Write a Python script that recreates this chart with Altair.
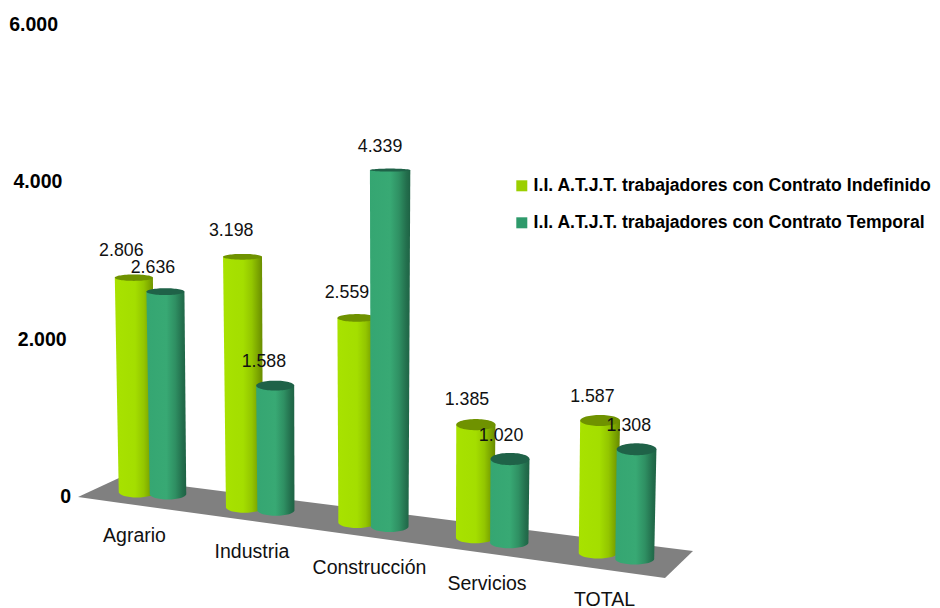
import math
import altair as alt
import pandas as pd

categories = ["Agrario", "Industria", "Construcción", "Servicios", "TOTAL"]
series_names = ["I.I. A.T.J.T. trabajadores con Contrato Indefinido",
                "I.I. A.T.J.T. trabajadores con Contrato Temporal"]
indefinido = [2806, 3198, 2559, 1385, 1587]
temporal = [2636, 1588, 4339, 1020, 1308]
axis_ticks = [0, 2000, 4000, 6000]

FONT = "Liberation Sans"
W, H = 924, 600
PER_UNIT = 472 / 6000
def to_units(py):
    return (497 - py) / PER_UNIT
Y_DOM = [to_units(8 + H), to_units(8)]
xs = alt.Scale(domain=[8, 8 + W], range=[0, W], nice=False, zero=False)
ys = alt.Scale(domain=Y_DOM, range=[H, 0], nice=False, zero=False)
X = lambda f, **k: alt.X(f, type="quantitative", scale=xs, axis=None, **k)
Y = lambda f, **k: alt.Y(f, type="quantitative", scale=ys, axis=None, **k)

def grad(stops):
    return alt.LinearGradient(gradient="linear", x1=0, x2=1, y1=0, y2=0,
        stops=[alt.GradientStop(offset=o, color=c) for o, c in stops])

FILLS = [
    grad([(0, "#A8E200"), (0.5, "#A4DE00"), (0.72, "#93C600"), (0.9, "#779F00"), (1, "#668800")]),
    grad([(0, "#35A672"), (0.5, "#38A974"), (0.72, "#2F9063"), (0.9, "#236F4D"), (1, "#1E6244")]),
]
TOPS = ["#6F9200", "#1F6248"]
LEGEND = ["#9BCF00", "#2E9A6B"]

def geometry(i, s, v):
    bx = 137 + 107.5 * i + 2.6 * i * (i - 1) + s * (31 + 0.1 * i + 0.32 * i * i)
    by = 492 + 15.25 * i + s * (2 + i)
    h = v * (0.0763 + 0.0018 * i + 0.0004 * s) + 8 * (v / 4339) ** 8
    tx = bx + (bx - 370) * 6.3e-5 * h
    ty = by - h
    wb = 36.5 + 0.6 * i
    wt = wb + 1.5 * h / 200
    return bx, by, tx, ty, wb, wt

layers = []
# floor
floor = pd.DataFrame({"x": [78, 119, 665, 693],
                      "a": [to_units(497), to_units(478), to_units(547.4), to_units(551)],
                      "b": [to_units(497), to_units(502.7), to_units(578), to_units(551)]})
layers.append(alt.Chart(floor).mark_area(color="#808080", interpolate="linear").encode(
    x=X("x"), y=Y("a"), y2="b"))

label_rows = []
for i, cat in enumerate(categories):
    for s, vals in enumerate([indefinido, temporal]):
        v = vals[i]
        bx, by, tx, ty, wb, wt = geometry(i, s, v)
        hb = 5.5
        ht = 1.5 + max(ty - 170, 0) * 0.016
        rows = [dict(py=ty, l=tx - wt / 2, r=tx + wt / 2)]
        rows.append(dict(py=by, l=bx - wb / 2, r=bx + wb / 2))
        for k in range(1, 17):
            a = k / 16 * math.pi / 2
            rows.append(dict(py=by + hb * math.sin(a),
                             l=bx - wb / 2 * math.cos(a), r=bx + wb / 2 * math.cos(a)))
        df = pd.DataFrame(rows)
        df["u"] = df.py.map(to_units)
        layers.append(alt.Chart(df).mark_area(orient="horizontal", color=FILLS[s], interpolate="linear").encode(
            x=X("l"), x2="r", y=Y("u")))
        rows = []
        for k in range(-16, 17):
            a = k / 16 * math.pi / 2
            rows.append(dict(py=ty + ht * math.sin(a),
                             l=tx - wt / 2 * math.cos(a), r=tx + wt / 2 * math.cos(a)))
        df = pd.DataFrame(rows)
        df["u"] = df.py.map(to_units)
        layers.append(alt.Chart(df).mark_area(orient="horizontal", color=TOPS[s], interpolate="linear").encode(
            x=X("l"), x2="r", y=Y("u")))
        off = (-26.5 + 0.75 * i) if s == 0 else -23.5
        label_rows.append(dict(x=tx - 12.5 + 1.2 * i, u=to_units(ty + off),
                               t=f"{v:,}".replace(",", ".")))

layers.append(alt.Chart(pd.DataFrame(label_rows)).mark_text(
    font=FONT, fontSize=17.8, color="#111111", align="center", baseline="middle").encode(
    x=X("x"), y=Y("u"), text="t:N"))

# category labels
cat_df = pd.DataFrame({"c": categories,
                       "x": [134.5 + 117.5 * i for i in range(5)],
                       "u": [to_units(535.5 + 16 * i) for i in range(5)]})
layers.append(alt.Chart(cat_df).mark_text(
    font=FONT, fontSize=19.5, color="#111111", align="center", baseline="middle").encode(
    x=X("x"), y=Y("u"), text="c:N"))

# value axis labels
tick_df = pd.DataFrame({"v": axis_ticks})
tick_df["x"] = [71 - 13 * k / 6000 for k in axis_ticks]
tick_df["t"] = [f"{k:,}".replace(",", ".") for k in axis_ticks]
layers.append(alt.Chart(tick_df).mark_text(
    font=FONT, fontSize=19.5, fontWeight="bold", color="#000000", align="right", baseline="middle").encode(
    x=X("x"), y=Y("v"), text="t:N"))

# legend
leg_df = pd.DataFrame({"s": series_names, "x": [600, 600], "u": [0, 0]})
layers.append(alt.Chart(leg_df).mark_square(opacity=0).encode(
    x=X("x"), y=Y("u"),
    color=alt.Color("s:N", scale=alt.Scale(domain=series_names, range=LEGEND),
        legend=alt.Legend(title=None, orient="none", legendX=505, legendY=169,
                          symbolType="square", symbolSize=121, symbolOpacity=1, symbolStrokeWidth=0,
                          labelFont=FONT, labelFontSize=17.6, labelFontWeight="bold", labelColor="#000000",
                          labelLimit=600, labelOffset=3, rowPadding=18, padding=0))))

chart = alt.layer(*layers).properties(
    width=W, height=H, padding=0, autosize=alt.AutoSizeParams(type="none"),
    background="#ffffff").configure_view(stroke=None)
chart.save("out.html", embed_options={"renderer": "svg", "actions": False})
